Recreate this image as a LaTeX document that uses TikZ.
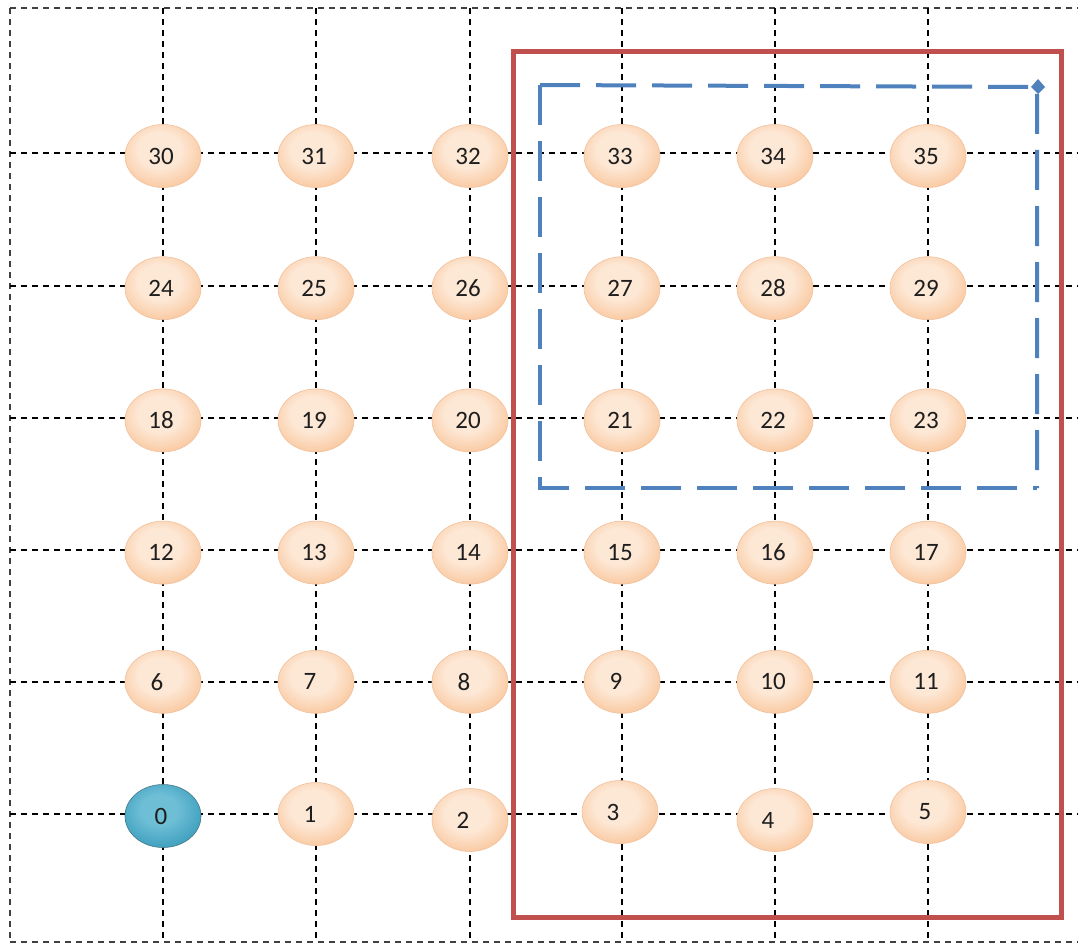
\documentclass[tikz,border=0pt]{standalone}
\usepackage{fontspec}
\setmainfont{Carlito}
\usetikzlibrary{shapes.geometric}
\definecolor{pI}{RGB}{253,232,214}
\definecolor{pM}{RGB}{249,196,152}
\definecolor{pO}{RGB}{232,150,90}
\definecolor{tI}{RGB}{110,190,214}
\definecolor{tM}{RGB}{55,155,186}
\definecolor{tO}{RGB}{22,85,105}
\definecolor{redbox}{RGB}{192,80,77}
\definecolor{bluebox}{RGB}{79,129,189}
\definecolor{txt}{RGB}{30,30,30}
\pgfdeclareradialshading{peach}{\pgfpoint{-3bp}{6bp}}{color(0bp)=(pI); color(14bp)=(pI); color(32bp)=(pM); color(46bp)=(pO); color(72bp)=(pO)}
\pgfdeclareradialshading{teal}{\pgfpoint{-3bp}{6bp}}{color(0bp)=(tI); color(12bp)=(tI); color(32bp)=(tM); color(46bp)=(tO); color(72bp)=(tO)}
\newcommand\shiftedtxt[2]{\hbox to 0pt{\hss#2\kern#1\hss}}
\tikzset{
  gridline/.style={black, line width=1.5pt, dash pattern=on 6pt off 5pt},
  borderline/.style={black!75, line width=1.3pt, dash pattern=on 6pt off 5pt},
  ball/.style={ellipse, minimum width=76pt, minimum height=63pt, inner sep=0pt,
    shading=peach, draw=pO!60, line width=0.6pt, text=txt,
    font=\fontsize{25}{29}\selectfont},
  startball/.style={ball, shading=teal, draw=tO!80},
  redframe/.style={redbox, line width=5pt, line join=miter},
  bluepath/.style={bluebox, line width=4pt, dash pattern=on 40pt off 16pt, line join=miter},
}
\begin{document}
\begin{tikzpicture}[x=1pt,y=-1pt]
\useasboundingbox (0,0) rectangle (1078,945);
% border
\draw[borderline] (10,8) -- (1078,8);
\draw[borderline] (10,942) -- (1078,942);
\draw[borderline] (10,8) -- (10,942);
% grid
\foreach \x in {163,316,470,622,775,928} \draw[gridline] (\x,8) -- (\x,942);
\foreach \y in {153,286,418,550,682,814} \draw[gridline] (10,\y) -- (1078,\y);
% red frame
\draw[redframe] (513,51) rectangle (1061,917);
% nodes rows 1..5
\foreach \r in {1,...,5}{
  \foreach \c [count=\ci from 0] in {163,316,470,622,775,928}{
    \pgfmathtruncatemacro\n{6*\r+\ci}
    \pgfmathsetmacro\yy{814-132.2*\r+(\r>1?3:0)}
    \pgfmathsetmacro\off{\n<10?12:4}
    \node[ball] (n\n) at (\c,\yy) {\shiftedtxt{\off pt}{\n}};
  }
}
% bottom row
\node[startball] (n0) at (163,816) {\shiftedtxt{4pt}{0}};
\node[ball] (n1) at (316,814) {\shiftedtxt{12pt}{1}};
\node[ball] (n2) at (470,820) {\shiftedtxt{14pt}{2}};
\node[ball] (n3) at (620,812) {\shiftedtxt{14pt}{3}};
\node[ball] (n4) at (775,820) {\shiftedtxt{14pt}{4}};
\node[ball] (n5) at (928,812) {\shiftedtxt{6pt}{5}};
% blue dashed path
\draw[bluepath] (540,85) -- (1037,87) -- (1037,488);
\draw[bluepath] (540,85) -- (540,488) -- (1037,488);
\fill[bluebox] (1038,79) -- (1045,87) -- (1038,94) -- (1031,87) -- cycle;
\end{tikzpicture}
\end{document}
